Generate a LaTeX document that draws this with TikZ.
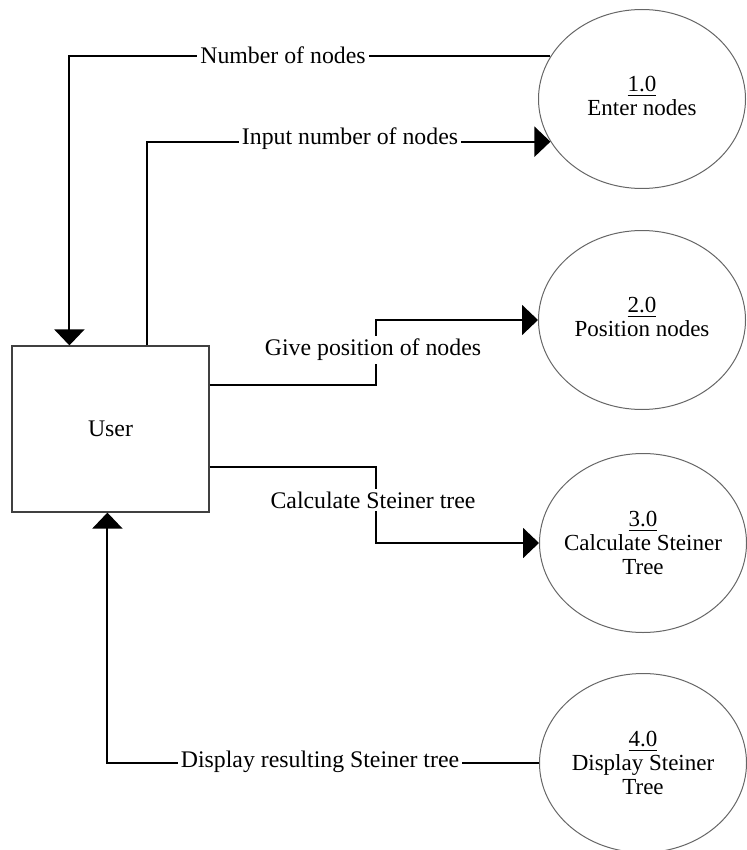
\documentclass[tikz,border=0pt]{standalone}
\usepackage{fontspec}
\setmainfont{Liberation Serif}
\usetikzlibrary{shapes.geometric,arrows.meta}
\begin{document}
\begin{tikzpicture}[x=0.5pt,y=-0.5pt,
  font=\fontsize{11.9}{11.6}\selectfont,
  proc/.style={ellipse,draw=black!60,line width=0.5pt,minimum width=103.5pt,minimum height=89.5pt,align=center,inner sep=-20pt,font=\fontsize{11.5}{11.8}\selectfont},
  ent/.style={rectangle,draw=black!75,line width=0.6pt,minimum width=98.5pt,minimum height=83pt},
  flow/.style={line width=1pt,black},
  arr/.style={flow,-{Triangle[length=8pt,width=15pt]}},
  lbl/.style={fill=white,inner sep=1.5pt}]
\useasboundingbox (0,0) rectangle (747,850);
\node[ent] (user) at (110.5,429) {User};
\node[proc] (p1) at (642,99) {\raisebox{3pt}{\begin{tabular}{@{}c@{}}\underline{1.0}\\Enter nodes\end{tabular}}};
\node[proc] (p2) at (642,320) {\raisebox{3pt}{\begin{tabular}{@{}c@{}}\underline{2.0}\\Position nodes\end{tabular}}};
\node[proc] (p3) at (643,543) {\underline{3.0}\\Calculate Steiner\\Tree};
\node[proc] (p4) at (643,763) {\underline{4.0}\\Display Steiner\\Tree};
% connectors
\draw[arr] (p1.155) -| ([xshift=29pt]user.north west);
\draw[arr] ([xshift=68pt]user.north west) |- (p1.205);
\draw[arr] ([yshift=22pt]user.east) -- ++(166,0) |- (p2.west);
\draw[arr] ([yshift=-19pt]user.east) -- ++(166,0) |- (p3.west);
\draw[arr] (p4.west) -| ([xshift=48pt]user.south west);
% labels
\node[lbl] (l1) at (283,55) {Number of nodes};
\node[lbl] (l2) at (350,139) {Input number of nodes};
\node[lbl] (l3) at (373,350) {Give position of nodes};
\node[lbl] (l4) at (373,500) {Calculate Steiner tree};
\node[lbl] (l5) at (320,762) {Display resulting Steiner tree};
\end{tikzpicture}
\end{document}
